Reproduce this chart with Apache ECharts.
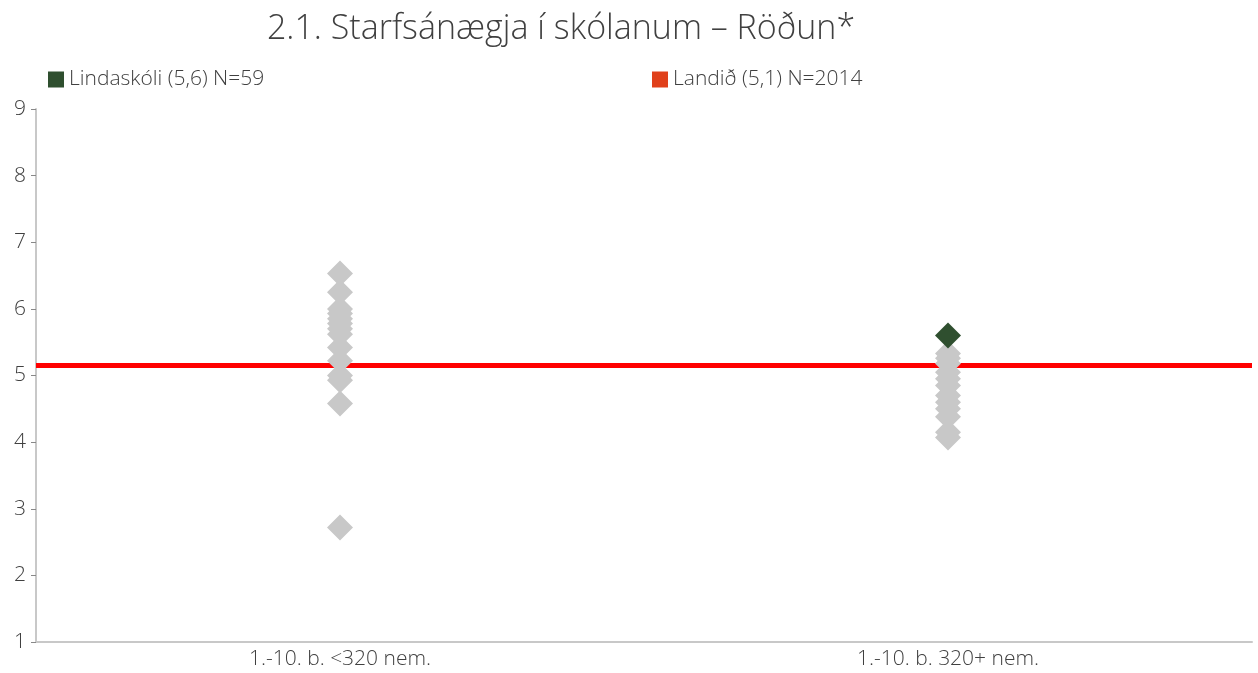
<!DOCTYPE html>
<html>
<head>
<meta charset="utf-8">
<script src="https://cdn.jsdelivr.net/npm/echarts@6/dist/echarts.min.js"></script>
<style>
html,body{margin:0;padding:0;background:#fff;}
#chart{width:1258px;height:673px;}
</style>
</head>
<body>
<div id="chart"></div>
<script>
const titleText = '2.1. Starfsánægja í skólanum – Röðun*';
const categories = ['1.-10. b. <320 nem.', '1.-10. b. 320+ nem.'];
const otherSchoolsSmall = [6.53, 6.25, 6.0, 5.93, 5.85, 5.78, 5.7, 5.62, 5.42, 5.22, 5.0, 4.93, 4.58, 2.72];
const otherSchoolsLarge = [5.33, 5.26, 5.18, 5.05, 4.95, 4.85, 4.7, 4.6, 4.5, 4.38, 4.15, 4.07];
const schoolName = 'Lindaskóli (5,6) N=59';
const schoolValue = [null, 5.6];
const nationName = 'Landið (5,1) N=2014';
const nationValue = 5.15;
const yTicks = [1, 2, 3, 4, 5, 6, 7, 8, 9];

const greyData = otherSchoolsSmall.map(v => [categories[0], v])
  .concat(otherSchoolsLarge.map(v => [categories[1], v]));
const schoolData = schoolValue.map((v, i) => v == null ? null : [categories[i], v]).filter(d => d);

const chart = echarts.init(document.getElementById('chart'));
const font = '"Open Sans", "Noto Sans", sans-serif';
const txt = '#404040';
chart.setOption({
  animation: false,
  title: {
    text: titleText,
    left: 556, top: 7, textAlign: 'center',
    textStyle: {fontFamily: font, fontSize: 34, fontWeight: 300, color: txt}
  },
  legend: [
    {
      data: [{name: schoolName, icon: 'rect'}],
      left: 43, top: 64, itemWidth: 16, itemHeight: 16, itemGap: 10,
      textStyle: {fontFamily: font, fontSize: 21, fontWeight: 300, color: txt}
    },
    {
      data: [{name: nationName, icon: 'rect', itemStyle: {color: '#e0401a'}}],
      left: 647, top: 64, itemWidth: 16, itemHeight: 16, itemGap: 9,
      textStyle: {fontFamily: font, fontSize: 21, fontWeight: 300, color: txt}
    }
  ],
  grid: {left: 36, right: 6, top: 109, bottom: 31, containLabel: false},
  xAxis: {
    type: 'category',
    data: categories,
    boundaryGap: true,
    axisLine: {lineStyle: {color: '#c8c8c8', width: 2}},
    axisTick: {show: false},
    axisLabel: {fontFamily: font, fontSize: 21, fontWeight: 300, color: txt, margin: 7},
    splitLine: {show: false}
  },
  yAxis: {
    type: 'value',
    min: yTicks[0], max: yTicks[yTicks.length - 1], interval: 1,
    axisLine: {show: true, lineStyle: {color: '#c8c8c8', width: 2}},
    axisTick: {show: true, length: 5, lineStyle: {color: '#888888', width: 1}},
    axisLabel: {fontFamily: font, fontSize: 21, fontWeight: 300, color: txt, margin: 10},
    splitLine: {show: false}
  },
  series: [
    {
      name: nationName,
      type: 'line',
      data: [],
      itemStyle: {color: '#e0401a'},
      z: 1,
      markLine: {
        silent: true,
        symbol: ['none', 'none'],
        label: {show: false},
        lineStyle: {color: '#ff0000', width: 5, type: 'solid'},
        data: [{yAxis: nationValue}],
        z: 1
      }
    },
    {
      name: 'others',
      type: 'scatter',
      symbol: 'diamond',
      symbolSize: 26,
      data: greyData,
      itemStyle: {color: '#c8c8c8', opacity: 1},
      z: 3
    },
    {
      name: schoolName,
      type: 'scatter',
      symbol: 'diamond',
      symbolSize: 26,
      data: schoolData,
      itemStyle: {color: '#2f4f2f', opacity: 1},
      z: 4
    }
  ]
});
</script>
</body>
</html>
